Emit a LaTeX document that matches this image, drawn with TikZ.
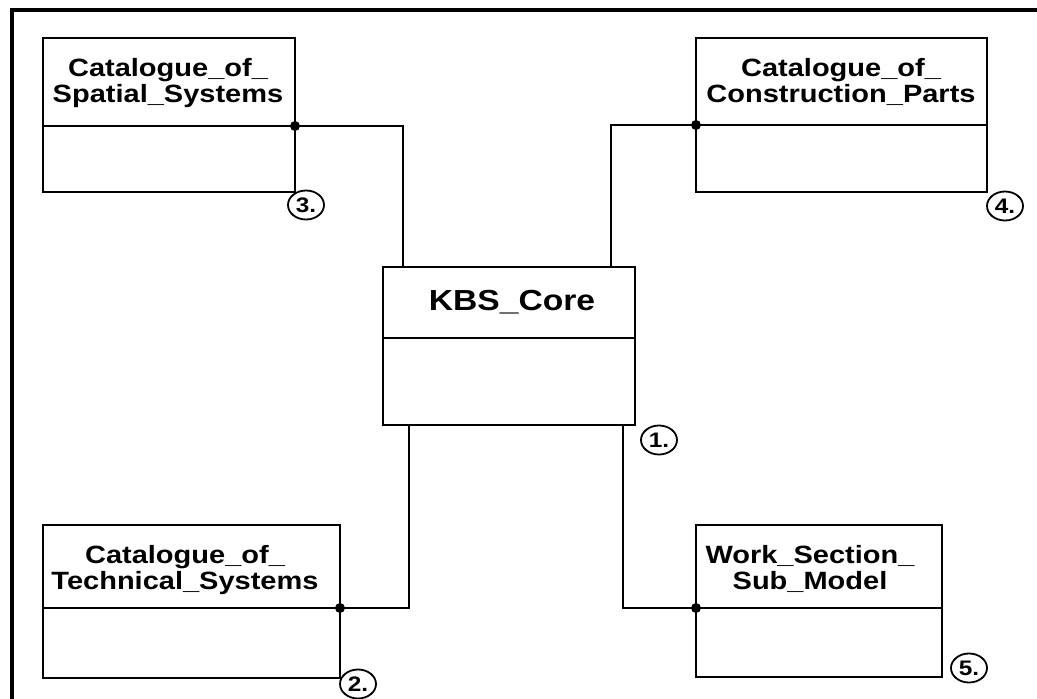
\documentclass[tikz,border=0pt]{standalone}
\usepackage{fontspec}
\setmainfont{Liberation Sans}[FakeStretch=1.16]
\usetikzlibrary{shapes.geometric}

\tikzset{
  classbox/.style={draw, line width=1.8pt, inner sep=0pt, outer sep=0pt, anchor=north west},
  divider/.style={line width=1.8pt},
  title/.style={align=center, inner sep=0pt, font=\fontsize{25}{26}\selectfont\bfseries},
  coretitle/.style={inner sep=0pt, font=\fontsize{29}{30}\selectfont\bfseries},
  link/.style={line width=1.5pt},
  joint/.style={fill=black},
  num/.style={draw, ellipse, line width=1.8pt, minimum width=36pt, minimum height=29pt,
              inner sep=0pt, font=\fontsize{21}{21}\selectfont\bfseries},
  frame/.style={line width=4pt}
}

\begin{document}
\begin{tikzpicture}[x=1pt, y=-1pt]
  \useasboundingbox (0,0) rectangle (1037,699);

  % outer frame (top and left edges)
  \draw[frame] (12,699) -- (12,10) -- (1037,10);

  % class boxes
  \node[classbox, minimum width=252pt, minimum height=154pt] (spatial) at (43,38) {};
  \node[classbox, minimum width=291pt, minimum height=154pt] (constr)  at (696,38) {};
  \node[classbox, minimum width=252pt, minimum height=158pt] (core)    at (383,267) {};
  \node[classbox, minimum width=297pt, minimum height=153pt] (tech)    at (43,525) {};
  \node[classbox, minimum width=246pt, minimum height=152pt] (work)    at (696,525) {};

  % header dividers
  \draw[divider] (spatial.west |- 0,126) -- (spatial.east |- 0,126);
  \draw[divider] (constr.west |- 0,125)  -- (constr.east |- 0,125);
  \draw[divider] (core.west |- 0,338)    -- (core.east |- 0,338);
  \draw[divider] (tech.west |- 0,608)    -- (tech.east |- 0,608);
  \draw[divider] (work.west |- 0,608)    -- (work.east |- 0,608);

  % titles
  \node[title] (spatialT) at (168,83)  {Catalogue\_of\_\\Spatial\_Systems};
  \node[title] (constrT)  at (841,82)  {Catalogue\_of\_\\Construction\_Parts};
  \node[coretitle] (coreT) at (512,302) {KBS\_Core};
  \node[title] (techT)    at (185,570) {Catalogue\_of\_\\Technical\_Systems};
  \node[title] (workT)    at (810,569) {Work\_Section\_\\Sub\_Model};

  % junction points on the boxes
  \coordinate (spatialJ) at (spatial.east |- 0,126);
  \coordinate (constrJ)  at (constr.west |- 0,125);
  \coordinate (techJ)    at (tech.east |- 0,608);
  \coordinate (workJ)    at (work.west |- 0,608);

  % attachment points on the core box
  \coordinate (coreNW) at (core.north -| 403,0);
  \coordinate (coreNE) at (core.north -| 611,0);
  \coordinate (coreSW) at (core.south -| 409,0);
  \coordinate (coreSE) at (core.south -| 623,0);

  % connectors
  \draw[link] (spatialJ) -| (coreNW);
  \draw[link] (constrJ)  -| (coreNE);
  \draw[link] (techJ)    -| (coreSW);
  \draw[link] (workJ)    -| (coreSE);

  \fill[joint] (spatialJ) circle (5pt);
  \fill[joint] (constrJ)  circle (5pt);
  \fill[joint] (techJ)    circle (5pt);
  \fill[joint] (workJ)    circle (5pt);

  % numbered markers
  \node[num] (n1) at (659,440) {1.};
  \node[num] (n2) at (358,684) {2.};
  \node[num] (n3) at (306,205) {3.};
  \node[num] (n4) at (1005,206) {4.};
  \node[num] (n5) at (969,668) {5.};
\end{tikzpicture}
\end{document}
